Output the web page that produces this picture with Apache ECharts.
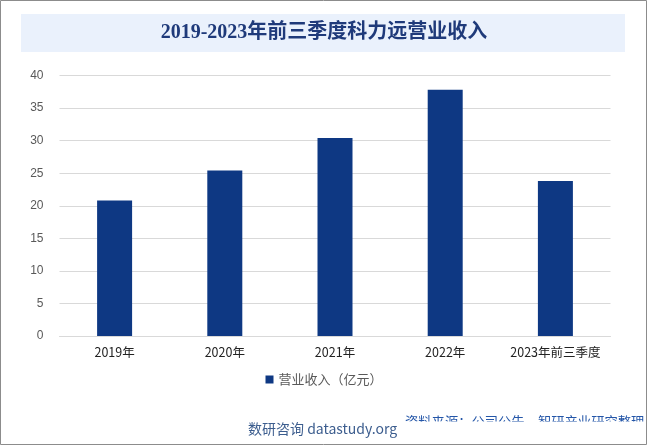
<!DOCTYPE html>
<html><head><meta charset="utf-8">
<script src="https://cdn.jsdelivr.net/npm/echarts@6/dist/echarts.min.js"></script>
<style>html,body{margin:0;padding:0;background:#fff}#c{width:648px;height:446px}</style>
</head><body><div id="c"></div>
<script>
const categories = ['2019年','2020年','2021年','2022年','2023年前三季度'];
const revenue = [20.8, 25.4, 30.4, 37.8, 23.8];
const seriesName = '营业收入（亿元）';
const titleText = '2019-2023年前三季度科力远营业收入';
const chart = echarts.init(document.getElementById('c'), null, {renderer:'canvas'});
chart.setOption({
  backgroundColor:'#fff',
  animation:false,
  graphic:[
    {type:'rect', shape:{x:0.5,y:0.5,width:646,height:444}, style:{fill:'none', stroke:'#8c8c8c', lineWidth:1}, z:0},
    {type:'rect', shape:{x:21,y:14,width:604,height:38}, style:{fill:'#eaf1fc'}, z:0},
    {type:'text', left:'center', top:23, style:{text:titleText, fill:'#1f3a7a', font:'bold 20px "Liberation Serif","Noto Sans CJK SC"'}, z:5},
    {type:'text', left:405, top:415, style:{text:'资料来源：公司公告，智研产业研究整理', fill:'#2456a8', font:'13.3px "Noto Sans CJK SC"'}, z:5},
    {type:'rect', shape:{x:380,y:421.5,width:265,height:21}, style:{fill:'#fff'}, z:6},
    {type:'text', left:248, top:422, style:{text:'数研咨询 datastudy.org', fill:'#3c5d8e', font:'14px "Noto Sans CJK SC","Open Sans"'}, z:7}
  ],
  grid:{left:59.5, right:37.5, top:75.5, bottom:110, containLabel:false},
  legend:{
    data:[seriesName], bottom:55, left:'center', itemWidth:8, itemHeight:8, itemGap:4,
    icon:'rect', textStyle:{color:'#595959', fontSize:13, fontFamily:'"Noto Sans CJK SC"'}
  },
  xAxis:{
    type:'category', data:categories,
    axisLine:{lineStyle:{color:'#d9d9d9'}}, axisTick:{show:false},
    axisLabel:{color:'#222', fontSize:12.5, margin:10, fontFamily:'"Noto Sans CJK SC"', interval:0}
  },
  yAxis:{
    type:'value', min:0, max:40, interval:5,
    axisLine:{show:false}, axisTick:{show:false},
    axisLabel:{color:'#595959', fontSize:12, margin:16, fontFamily:'Arial, "Liberation Sans"'},
    splitLine:{lineStyle:{color:'#d9d9d9'}}
  },
  series:[{
    name:seriesName, type:'bar', data:revenue, barWidth:35,
    itemStyle:{color:'#0e3883'}
  }]
});
</script></body></html>
